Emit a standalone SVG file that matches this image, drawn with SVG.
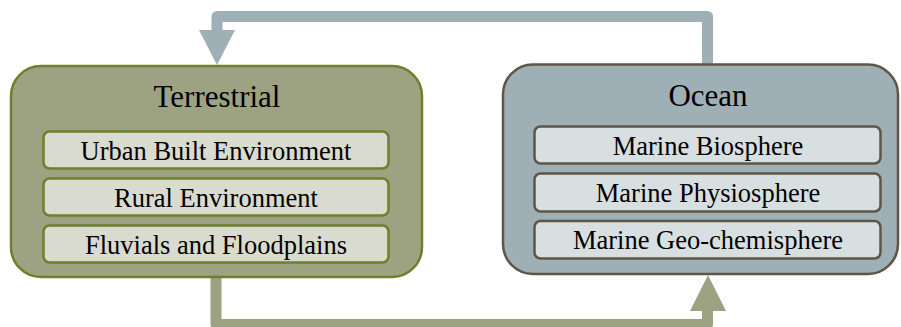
<svg xmlns="http://www.w3.org/2000/svg" width="901" height="327" viewBox="0 0 901 327">
<style>
text{font-family:"Liberation Serif","Times New Roman",serif;fill:#000;text-anchor:middle}
.title{font-size:31px}
.item{font-size:26.5px}
.terr{fill:#9da382;stroke:#6f7f2b;stroke-width:2.5}
.terrIn{fill:#d9dbce;stroke:#6f7f2b;stroke-width:2.5}
.ocean{fill:#9eafb5;stroke:#5f5646;stroke-width:2.5}
.oceanIn{fill:#d8dfe1;stroke:#5f5646;stroke-width:2.5}
.conn{fill:none;stroke-width:11;stroke-linejoin:round}
</style>
<g id="connectors">
<path class="conn" stroke="#9eafb5" d="M707.5 65 V16.5 H217 V31"/>
<polygon fill="#9eafb5" points="199,30 235,30 217,65"/>
<path class="conn" stroke="#9da382" d="M216 277 V324.5 H707.5 V310"/>
<polygon fill="#9da382" points="690,311 726,311 708,275"/>
</g>
<g id="terrestrial">
<rect class="terr" x="11" y="66" width="411" height="211" rx="30"/>
<text class="title" x="217" y="107">Terrestrial</text>
</g>
<g id="urban">
<rect class="terrIn" x="43.5" y="131.5" width="345" height="37" rx="6"/>
<text class="item" x="216" y="160">Urban Built Environment</text>
</g>
<g id="rural">
<rect class="terrIn" x="43.5" y="178.5" width="345" height="37" rx="6"/>
<text class="item" x="216" y="207">Rural Environment</text>
</g>
<g id="fluvials">
<rect class="terrIn" x="43.5" y="225.5" width="345" height="37" rx="6"/>
<text class="item" x="216" y="254">Fluvials and Floodplains</text>
</g>
<g id="ocean">
<rect class="ocean" x="503" y="64.5" width="395" height="209.5" rx="30"/>
<text class="title" x="708" y="106">Ocean</text>
</g>
<g id="biosphere">
<rect class="oceanIn" x="534.5" y="126.5" width="346" height="37" rx="6"/>
<text class="item" x="708" y="155">Marine Biosphere</text>
</g>
<g id="physiosphere">
<rect class="oceanIn" x="534.5" y="173.5" width="346" height="38" rx="6"/>
<text class="item" x="708" y="202">Marine Physiosphere</text>
</g>
<g id="geochem">
<rect class="oceanIn" x="534.5" y="221" width="346" height="37.5" rx="6"/>
<text class="item" x="708" y="249">Marine Geo-chemisphere</text>
</g>
</svg>
